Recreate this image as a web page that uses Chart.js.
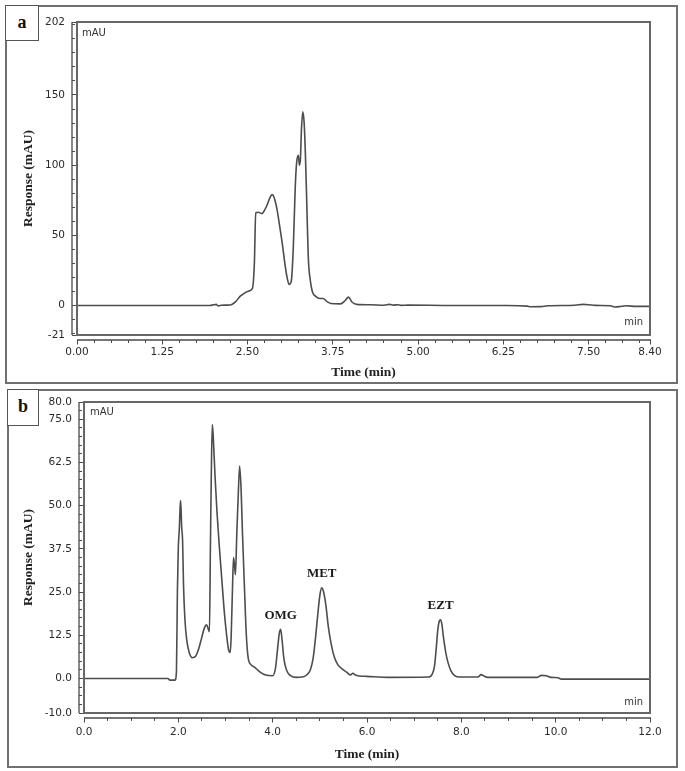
<!DOCTYPE html>
<html>
<head>
<meta charset="utf-8">
<script src="https://cdn.jsdelivr.net/npm/chart.js@4.4.1/dist/chart.umd.min.js"></script>
<style>
  body { margin: 0; background: #fff; }
  #page { position: relative; width: 685px; height: 771px; overflow: hidden; }
  canvas { position: absolute; left: 0; }
  .panel { position: absolute; border: 2px solid #707070; box-sizing: border-box; pointer-events: none; }
  .tag { position: absolute; border: 1.5px solid #555; box-sizing: border-box; background: #fff;
         font: bold 18px "Liberation Serif", serif; color: #111; text-align: center; }
</style>
</head>
<body>
<div id="page">
  <canvas id="chartA" width="685" height="385" style="top:0"></canvas>
  <canvas id="chartB" width="685" height="386" style="top:385px"></canvas>
  <div class="panel" style="left:5px; top:5px; width:673px; height:379px"></div>
  <div class="panel" style="left:7px; top:389px; width:671px; height:379px"></div>
  <div class="tag" style="left:5px; top:5px; width:34px; height:36px; line-height:32px">a</div>
  <div class="tag" style="left:7px; top:389px; width:32px; height:37px; line-height:33px">b</div>
</div>
<script>
// ------------------------------
// data
// ------------------------------

// (a) blank / placebo run
const timeA = [0, 1.95, 2.0, 2.04, 2.07, 2.12, 2.2, 2.27, 2.33, 2.39, 2.44, 2.5, 2.57, 2.6, 2.62, 2.66, 2.71,
  2.75, 2.79, 2.83, 2.86, 2.89, 2.93, 2.97, 3.01, 3.05, 3.08, 3.11, 3.14, 3.17, 3.2, 3.22, 3.245, 3.26,
  3.275, 3.29, 3.31, 3.33, 3.35, 3.37, 3.39, 3.42, 3.45, 3.5, 3.56, 3.61, 3.66, 3.72, 3.86, 3.93, 3.98,
  4.03, 4.1, 4.3, 4.5, 4.58, 4.64, 4.7, 4.75, 4.85, 5.5, 6.3, 6.6, 6.65, 6.8, 6.9, 7.3, 7.42, 7.5, 7.6,
  7.82, 7.88, 7.95, 8.05, 8.2, 8.4];
const respA = [0, 0, 0.5, 0.8, -0.3, 0.2, 0.3, 0.8, 3, 6.5, 8.3, 10, 12, 30, 66, 66.5, 65.5,
  68, 72, 77, 79, 77, 69, 57, 44, 29, 20, 15, 17, 40, 85, 102, 107, 100,
  104, 125, 138, 130, 105, 70, 35, 18, 10, 6.5, 5, 5, 3, 1.5, 1.2, 3.5, 6,
  2.5, 0.8, 0.5, 0.2, 0.8, 0.3, 0.6, 0.1, 0.3, 0, 0, -0.4, -0.9, -0.8, -0.2, 0.2, 0.8, 0.6, 0.1,
  -0.2, -1.0, -0.8, -0.2, -0.6, -0.6];

// (b) mixture run
const timeB = [0, 1.78, 1.82, 1.93, 1.96, 1.98, 2.0, 2.02, 2.04, 2.05, 2.07, 2.09, 2.11, 2.14, 2.18, 2.23,
  2.3, 2.37, 2.43, 2.49, 2.55, 2.6, 2.63, 2.66, 2.68, 2.7, 2.72, 2.74, 2.78, 2.82, 2.87, 2.92, 2.97,
  3.02, 3.07, 3.1, 3.12, 3.15, 3.17, 3.19, 3.21, 3.24, 3.27, 3.3, 3.33, 3.36, 3.4, 3.44, 3.48, 3.54,
  3.62, 3.72, 3.85, 4.0, 4.06, 4.1, 4.14, 4.17, 4.2, 4.24, 4.3, 4.38, 4.5, 4.62, 4.72, 4.8, 4.86,
  4.91, 4.96, 5.0, 5.04, 5.08, 5.13, 5.18, 5.24, 5.3, 5.38, 5.47, 5.57, 5.65, 5.7, 5.75, 5.85, 6.0,
  6.45, 7.3, 7.38, 7.43, 7.47, 7.5, 7.53, 7.56, 7.59, 7.62, 7.67, 7.72, 7.78, 7.86, 7.96, 8.35, 8.42,
  8.48, 8.56, 9.6, 9.7, 9.8, 9.9, 10.05, 10.12, 12.0];
const respB = [0, 0, -0.5, -0.5, 2, 25, 38, 43, 50, 51.5, 44, 40, 27, 17, 11, 7.5,
  6, 6.5, 8.5, 11.5, 14.5, 15.5, 14.5, 13.5, 38, 60, 73.5, 70, 58, 48, 38, 29, 20,
  13, 8, 7.5, 12, 27, 35, 33, 30, 42, 53, 61.5, 55, 42, 27, 13, 6, 4,
  3.2, 2, 1, 0.8, 3, 8, 13, 14.2, 11, 5.5, 2.2, 0.8, 0.3, 0.4, 1, 2.5, 6,
  12, 19, 24, 26.2, 25, 21, 15, 10, 6.5, 4, 2.8, 1.8, 1.0, 1.5, 1.0, 0.7, 0.6,
  0.3, 0.4, 1.2, 3.5, 9, 14, 16.5, 17, 15.5, 12, 7.5, 4.5, 2.2, 0.8, 0.4, 0.4, 1.1,
  0.7, 0.3, 0.3, 0.9, 0.8, 0.3, 0.2, -0.2, -0.2];

const peakNames = ["OMG", "MET", "EZT"];
const peakTimes = [4.17, 5.04, 7.56];

// axis ticks (labelled ones) and minor tick steps
const xLabelsA = [0, 1.25, 2.5, 3.75, 5, 6.25, 7.5, 8.4];
const yLabelsA = [-21, 0, 50, 100, 150, 202];
const xLabelsB = [0, 2, 4, 6, 8, 10, 12];
const yLabelsB = [-10, 0, 12.5, 25, 37.5, 50, 62.5, 75, 80];
const xStepA = 0.25, yStepA = 10, xStepB = 0.5, yStepB = 2.5;


// ------------------------------
// helpers
// ------------------------------

function tickList(min, max, step, majors) {
    const vals = majors.slice();
    for (let v = Math.ceil(min / step) * step; v <= max + 1e-9; v += step) {
        if (!vals.some(m => Math.abs(m - v) < 1e-6)) vals.push(+v.toFixed(4));
    }
    return vals.sort((p, q) => p - q);
}

function isMajor(v, majors) {
    return majors.some(m => Math.abs(m - v) < 1e-6);
}

const tickFont = { family: "DejaVu Sans", size: 10.5 };
const titleFont = { family: "Liberation Serif", size: 13.5, weight: "bold" };

// plot box, detached axis lines, unit captions and peak names
const framePlugin = {
    id: "frame",
    afterDraw(chart, args, opts) {
        const { ctx, chartArea: a, scales: { x, y } } = chart;
        ctx.save();
        ctx.strokeStyle = "#4a4a4a";
        ctx.lineWidth = 1.3;
        ctx.beginPath();
        ctx.moveTo(a.left - opts.gap, y.getPixelForValue(y.max));
        ctx.lineTo(a.left - opts.gap, y.getPixelForValue(y.min));
        ctx.moveTo(a.left, a.bottom + opts.gap);
        ctx.lineTo(a.right + 1, a.bottom + opts.gap);
        ctx.stroke();

        ctx.strokeStyle = "#666";
        ctx.lineWidth = 2;
        ctx.strokeRect(a.left, a.top, a.right - a.left, a.bottom - a.top);

        ctx.fillStyle = "#333";
        ctx.font = "10px 'DejaVu Sans'";
        ctx.textBaseline = "middle";
        ctx.textAlign = "left";
        ctx.fillText("mAU", a.left + opts.mau[0], a.top + opts.mau[1]);
        ctx.textAlign = "right";
        ctx.fillText("min", a.right - 7, a.bottom - opts.minY);

        if (opts.peaks) {
            const ds = chart.data.datasets[0].data;
            ctx.font = "bold 13px 'Liberation Serif'";
            ctx.fillStyle = "#1a1a1a";
            ctx.textAlign = "center";
            peakNames.forEach((name, i) => {
                const t = peakTimes[i];
                const top = Math.max(...ds.filter(p => Math.abs(p.x - t) < 0.08).map(p => p.y));
                ctx.fillText(name, x.getPixelForValue(t), y.getPixelForValue(top) - 14);
            });
        }
        ctx.restore();
    }
};

function makeChart(id, times, values, cfg) {
    const xTicks = tickList(cfg.xMin, cfg.xMax, cfg.xStep, cfg.xLabels);
    const yTicks = tickList(cfg.yMin, cfg.yMax, cfg.yStep, cfg.yLabels);
    const tickDash = (labels, gap, big, small) => ctx =>
        isMajor(ctx.tick.value, labels) ? [0, gap, big, 100] : [0, gap, small, 100];

    return new Chart(document.getElementById(id), {
        type: "line",
        data: {
            datasets: [{
                data: times.map((t, i) => ({ x: t, y: values[i] })),
                borderColor: "#4d4d4d",
                borderWidth: 1.6,
                pointRadius: 0,
                cubicInterpolationMode: "monotone"
            }]
        },
        options: {
            responsive: false,
            animation: false,
            events: [],
            layout: { padding: cfg.padding },
            plugins: {
                legend: { display: false },
                tooltip: { enabled: false },
                frame: { gap: cfg.gap, mau: cfg.mau, minY: cfg.minY, peaks: cfg.peaks }
            },
            scales: {
                x: {
                    type: "linear",
                    min: cfg.xMin,
                    max: cfg.xMax,
                    afterBuildTicks: s => { s.ticks = xTicks.map(v => ({ value: v })); },
                    afterFit: s => { s.height = cfg.xHeight; },
                    border: { display: false },
                    grid: {
                        drawOnChartArea: false,
                        tickLength: cfg.gap + 5,
                        tickColor: "#4a4a4a",
                        tickBorderDash: tickDash(cfg.xLabels, cfg.gap, 4.5, 3)
                    },
                    ticks: {
                        autoSkip: false,
                        maxRotation: 0,
                        padding: cfg.xPad,
                        color: "#2a2a2a",
                        font: tickFont,
                        callback: v => isMajor(v, cfg.xLabels) ? v.toFixed(cfg.xDec) : ""
                    },
                    title: { display: true, text: "Time (min)", color: "#222", font: titleFont, padding: 0 }
                },
                y: {
                    min: cfg.yMin,
                    max: cfg.yMax,
                    afterBuildTicks: s => { s.ticks = yTicks.map(v => ({ value: v })); },
                    afterFit: s => { s.width = cfg.yWidth; },
                    border: { display: false },
                    grid: {
                        drawOnChartArea: false,
                        tickLength: cfg.gap + 5,
                        tickColor: "#4a4a4a",
                        tickBorderDash: tickDash(cfg.yLabels, cfg.gap, 5, 3)
                    },
                    ticks: {
                        autoSkip: false,
                        padding: cfg.yPad,
                        color: "#2a2a2a",
                        font: tickFont,
                        callback: v => isMajor(v, cfg.yLabels) ? v.toFixed(cfg.yDec) : ""
                    },
                    title: { display: true, text: "Response (mAU)", color: "#222", font: titleFont, padding: { top: 6, bottom: 0 } }
                }
            }
        },
        plugins: [framePlugin]
    });
}


// ------------------------------
// (a)
// ------------------------------

const chartA = makeChart("chartA", timeA, respA, {
    xMin: 0, xMax: 8.4, xStep: xStepA, xLabels: xLabelsA, xDec: 2,
    yMin: -21, yMax: 202, yStep: yStepA, yLabels: yLabelsA, yDec: 0,
    padding: { left: 14, top: 22, right: 35, bottom: 4 },
    xHeight: 46, yWidth: 63, gap: 5, xPad: 1, yPad: 2,
    mau: [5, 11], minY: 13, peaks: false
});


// ------------------------------
// (b)
// ------------------------------

const chartB = makeChart("chartB", timeB, respB, {
    xMin: 0, xMax: 12, xStep: xStepB, xLabels: xLabelsB, xDec: 1,
    yMin: -10, yMax: 80, yStep: yStepB, yLabels: yLabelsB, yDec: 1,
    padding: { left: 14, top: 17, right: 35, bottom: 8 },
    xHeight: 50, yWidth: 70, gap: 5, xPad: 3, yPad: 2,
    mau: [6, 10], minY: 11, peaks: true
});
</script>
</body>
</html>
